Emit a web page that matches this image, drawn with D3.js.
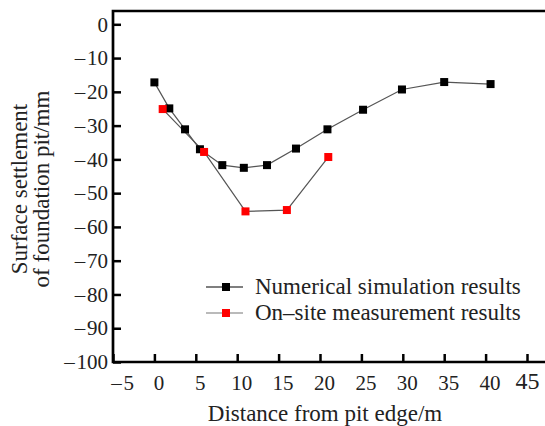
<!DOCTYPE html>
<html>
<head>
<meta charset="utf-8">
<script src="https://cdn.jsdelivr.net/npm/d3@7"></script>
<style>
  body { margin: 0; background: #fff; }
  text { font-family: "Liberation Serif", "DejaVu Serif", serif; fill: #222; }
</style>
</head>
<body>
<div id="chart"></div>
<script>
// Datos
const simX = [0, 1.8, 3.7, 5.5, 8.2, 10.8, 13.6, 17.1, 20.9, 25.2, 29.9, 35.0, 40.6];
const simY = [-17.2, -24.9, -31.1, -37.0, -41.7, -42.5, -41.7, -36.8, -31.1, -25.3, -19.3, -17.1, -17.7];
const siteX = [1.0, 6.0, 11.0, 16.0, 21.0];
const siteY = [-25.1, -37.8, -55.4, -55.0, -39.3];
const xTicks = [-5, 0, 5, 10, 15, 20, 25, 30, 35, 40, 45];
const yTicks = [0, -10, -20, -30, -40, -50, -60, -70, -80, -90, -100];
const seriesNames = ["Numerical simulation results", "On\u2013site measurement results"];

const width = 545, height = 426;
const mLeft = 113, mTop = 11, mBottom = 362;

const svg = d3.select("#chart").append("svg")
    .attr("width", width)
    .attr("height", height);

const x = d3.scaleLinear().domain([-5, 45]).range([mLeft, 527]);
const y = d3.scaleLinear().domain([-100, 0]).range([mBottom, 24.3]);

// Formato con guion largo como signo menos
const fmt = d => d < 0 ? "\u2013\u200A" + Math.abs(d) : String(d);

// Eje X (ticks hacia dentro)
const gx = svg.append("g")
    .attr("transform", `translate(0,${mBottom})`)
    .call(d3.axisBottom(x).tickValues(xTicks).tickFormat(fmt).tickSizeInner(-8).tickSizeOuter(0).tickPadding(13));
gx.select(".domain").remove();
gx.selectAll(".tick line").attr("stroke", "#000").attr("stroke-width", 2.5);
gx.selectAll(".tick text").attr("font-size", 21).attr("fill", "#222").attr("dx", d => d < 0 ? 9 : 4);
gx.selectAll(".tick").filter(d => d === 45).select("text").attr("font-size", 24).attr("dy", "0.6em").attr("dx", 0);

// Eje Y
const gy = svg.append("g")
    .attr("transform", `translate(${mLeft},0)`)
    .call(d3.axisLeft(y).tickValues(yTicks).tickFormat(fmt).tickSizeInner(-8).tickSizeOuter(0).tickPadding(5));
gy.select(".domain").remove();
gy.selectAll(".tick line").attr("stroke", "#000").attr("stroke-width", 2.5);
gy.selectAll(".tick text").attr("font-size", 21).attr("fill", "#222");

// Marco: izquierda, arriba y abajo
svg.append("path")
    .attr("d", `M${width},${mTop}H${mLeft}V${mBottom}H${width}`)
    .attr("fill", "none")
    .attr("stroke", "#000")
    .attr("stroke-width", 2.7);

// Títulos de los ejes
svg.append("text")
    .attr("x", 325).attr("y", 421)
    .attr("text-anchor", "middle")
    .attr("font-size", 23)
    .text("Distance from pit edge/m");

const yt = svg.append("text")
    .attr("transform", "translate(27,189) rotate(-90)")
    .attr("text-anchor", "middle")
    .attr("font-size", 23);
yt.append("tspan").attr("x", 0).attr("dy", 0).text("Surface settlement");
yt.append("tspan").attr("x", 0).attr("dy", 22).text("of foundation pit/mm");

const line = d3.line().x(d => x(d[0])).y(d => y(d[1]));
const sim = simX.map((v, i) => [v, simY[i]]);
const site = siteX.map((v, i) => [v, siteY[i]]);

const series = [
    { data: sim, color: "#000" },
    { data: site, color: "#ff0000" }
];

series.forEach(s => {
    svg.append("path")
        .datum(s.data)
        .attr("fill", "none")
        .attr("stroke", "#555")
        .attr("stroke-width", 1.2)
        .attr("d", line);
});

series.forEach(s => {
    svg.append("g").selectAll("rect")
        .data(s.data)
        .join("rect")
        .attr("x", d => x(d[0]) - 4)
        .attr("y", d => y(d[1]) - 4)
        .attr("width", 8)
        .attr("height", 8)
        .attr("fill", s.color);
});

// Leyenda
const legend = svg.append("g");
series.forEach((s, i) => {
    const ly = 287 + i * 26;
    legend.append("line")
        .attr("x1", 206).attr("x2", 243)
        .attr("y1", ly).attr("y2", ly)
        .attr("stroke", i === 0 ? "#000" : "#777")
        .attr("stroke-width", 1.2);
    legend.append("rect")
        .attr("x", 222).attr("y", ly - 4)
        .attr("width", 8).attr("height", 8)
        .attr("fill", s.color);
    legend.append("text")
        .attr("x", 255).attr("y", ly + 7)
        .attr("font-size", 23)
        .text(seriesNames[i]);
});
</script>
</body>
</html>
